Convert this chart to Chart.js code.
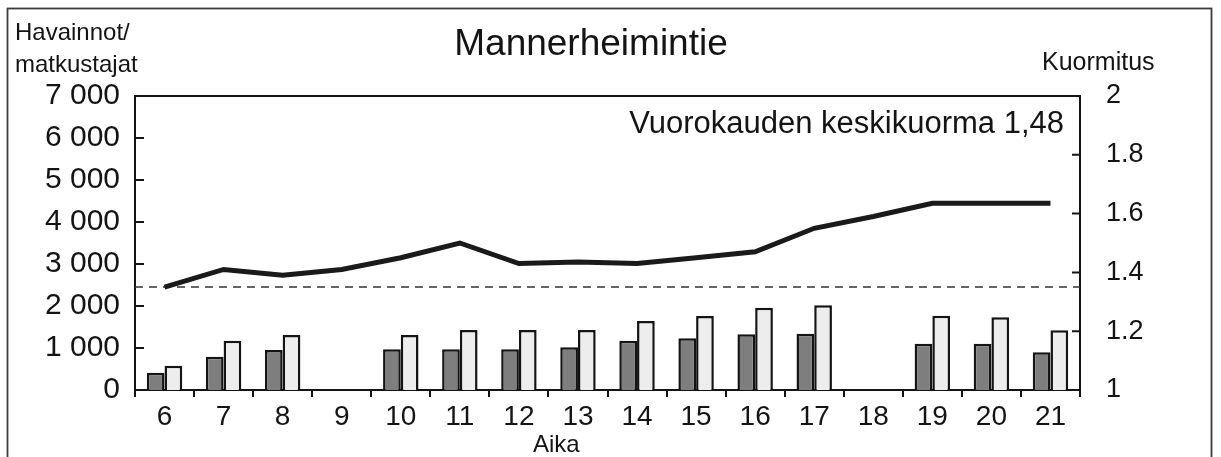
<!DOCTYPE html>
<html lang="fi">
<head>
<meta charset="utf-8">
<title>Mannerheimintie</title>
<script src="https://cdn.jsdelivr.net/npm/chart.js@4.4.1/dist/chart.umd.min.js"></script>
<style>
  html, body { margin: 0; padding: 0; background: #fff; }
  #kuva { display: block; }
</style>
</head>
<body>
<canvas id="kuva" width="1221" height="457"></canvas>
<script>
// tunnit (Aika)
const tunnit = ['6', '7', '8', '9', '10', '11', '12', '13', '14', '15', '16', '17', '18', '19', '20', '21'];

// pylväät, vasen akseli
const havainnot   = [410, 790, 950, null, 970, 970, 970, 1020, 1170, 1230, 1330, 1340, null, 1100, 1100, 900];
const matkustajat = [580, 1170, 1310, null, 1310, 1430, 1430, 1430, 1640, 1760, 1960, 2020, null, 1770, 1730, 1420];

// kuormitus, oikea akseli
const kuormitus = [1.35, 1.41, 1.39, 1.41, 1.45, 1.50, 1.43, 1.435, 1.43, 1.45, 1.47, 1.55, 1.59, 1.635, 1.635, 1.635];

// katkoviiva (oikea akseli)
const katkoTaso = 1.35;

const vasenMin = 0, vasenMax = 7000, vasenAskel = 1000;
const oikeaMin = 1, oikeaMax = 2, oikeaAskel = 0.2;

const fontti = '"Liberation Sans", Arial, Helvetica, sans-serif';
const musta = '#141414';

function tuhannet(v) {
  return String(v).replace(/\B(?=(\d{3})+(?!\d))/g, ' ');
}

const piirrokset = {
  id: 'piirrokset',
  beforeDraw(chart) {
    const c = chart.ctx;
    c.save();
    c.fillStyle = '#fff';
    c.fillRect(0, 0, chart.width, chart.height);
    c.restore();
  },
  beforeDatasetsDraw(chart) {
    const c = chart.ctx;
    const a = chart.chartArea;
    const y = chart.scales.y1.getPixelForValue(katkoTaso);
    c.save();
    c.strokeStyle = '#333';
    c.lineWidth = 1.5;
    c.setLineDash([8, 6]);
    c.beginPath();
    c.moveTo(a.left, y);
    c.lineTo(a.right, y);
    c.stroke();
    c.restore();
  },
  afterDraw(chart) {
    const c = chart.ctx;
    const a = chart.chartArea;
    const ys = chart.scales.y;
    const ys1 = chart.scales.y1;
    c.save();
    // kehys
    c.strokeStyle = '#3c3c3c';
    c.lineWidth = 1.8;
    c.strokeRect(7.5, 8.5, 1204, 480);
    // kuvaajan yläreuna
    c.strokeStyle = musta;
    c.lineWidth = 2;
    c.beginPath();
    c.moveTo(a.left, a.top);
    c.lineTo(a.right, a.top);
    c.stroke();
    // sisäänpäin olevat jakoviivat
    c.beginPath();
    ys.ticks.forEach(t => {
      if (t.value <= vasenMin || t.value >= vasenMax) return;
      const p = ys.getPixelForValue(t.value);
      c.moveTo(a.left, p);
      c.lineTo(a.left + 9, p);
    });
    ys1.ticks.forEach(t => {
      if (t.value <= oikeaMin + 1e-6 || t.value >= oikeaMax - 1e-6) return;
      const p = ys1.getPixelForValue(t.value);
      c.moveTo(a.right - 8, p);
      c.lineTo(a.right, p);
    });
    c.stroke();

    // tekstit
    c.fillStyle = musta;
    c.textBaseline = 'alphabetic';
    c.textAlign = 'center';
    c.font = '37px ' + fontti;
    c.fillText('Mannerheimintie', 591, 55);

    c.textAlign = 'left';
    c.font = '24px ' + fontti;
    c.fillText('Havainnot/', 15, 40);
    c.fillText('matkustajat', 15, 72);
    c.fillText('Aika', 533, 452);
    c.font = '25px ' + fontti;
    c.fillText('Kuormitus', 1042, 70);

    c.textAlign = 'right';
    c.font = '31px ' + fontti;
    c.fillText('Vuorokauden keskikuorma 1,48', 1064, 133);
    c.restore();
  }
};

new Chart(document.getElementById('kuva'), {
  type: 'bar',
  data: {
    labels: tunnit,
    datasets: [
      {
        type: 'line',
        label: 'Kuormitus',
        data: kuormitus,
        yAxisID: 'y1',
        borderColor: '#1a1a1a',
        borderWidth: 5,
        pointRadius: 0,
        tension: 0,
        fill: false,
        order: 0
      },
      {
        label: 'Havainnot',
        data: havainnot,
        yAxisID: 'y',
        backgroundColor: '#7e7e7e',
        borderColor: musta,
        borderWidth: 2.5,
        categoryPercentage: 0.6,
        barPercentage: 1.0,
        order: 1
      },
      {
        label: 'Matkustajat',
        data: matkustajat,
        yAxisID: 'y',
        backgroundColor: '#ededed',
        borderColor: musta,
        borderWidth: 2.5,
        categoryPercentage: 0.6,
        barPercentage: 1.0,
        order: 1
      }
    ]
  },
  options: {
    responsive: false,
    animation: false,
    layout: { padding: { top: 96, left: 0, right: 0, bottom: 0 } },
    plugins: {
      legend: { display: false },
      tooltip: { enabled: false },
      title: { display: false }
    },
    scales: {
      x: {
        type: 'category',
        offset: true,
        grid: { offset: true, drawOnChartArea: false, tickLength: 7, color: musta, lineWidth: 2 },
        border: { color: musta, width: 2 },
        ticks: {
          padding: 3,
          color: musta,
          maxRotation: 0,
          autoSkip: false,
          font: { family: fontti, size: 28 }
        },
        afterFit(s) { s.height = 67; }
      },
      y: {
        position: 'left',
        min: vasenMin,
        max: vasenMax,
        grid: { display: false, drawTicks: false },
        border: { color: musta, width: 2 },
        ticks: {
          stepSize: vasenAskel,
          padding: 15,
          color: musta,
          font: { family: fontti, size: 30 },
          callback: v => tuhannet(v)
        },
        afterFit(s) { s.width = 135; }
      },
      y1: {
        position: 'right',
        min: oikeaMin,
        max: oikeaMax,
        grid: { display: false, drawTicks: false },
        border: { color: musta, width: 2 },
        ticks: {
          stepSize: oikeaAskel,
          padding: 26,
          color: musta,
          font: { family: fontti, size: 27 },
          callback: v => String(Number(v.toFixed(1)))
        },
        afterFit(s) { s.width = 141; }
      }
    }
  },
  plugins: [piirrokset]
});
</script>
</body>
</html>
